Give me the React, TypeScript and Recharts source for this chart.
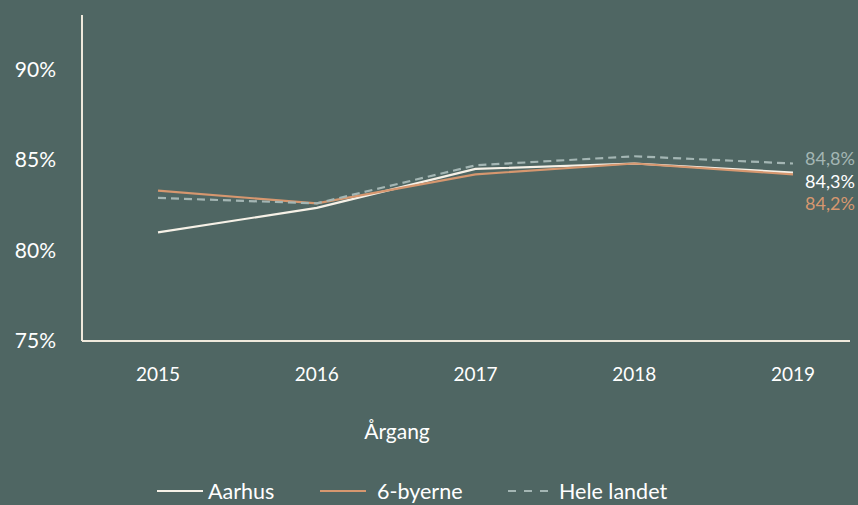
import { Label, Line, LineChart, XAxis, YAxis } from "recharts";

const years = ["2015", "2016", "2017", "2018", "2019"];
const aarhus = [81.0, 82.35, 84.5, 84.8, 84.3];
const byerne = [83.3, 82.6, 84.2, 84.8, 84.2];
const heleLandet = [82.9, 82.6, 84.7, 85.2, 84.8];
const yTicks = [75, 80, 85, 90];

const data = years.map((year, i) => ({
  year,
  aarhus: aarhus[i],
  byerne: byerne[i],
  hele: heleLandet[i],
}));

const BG = "#4f6663";
const FONT = "Lato, 'Open Sans', sans-serif";

const series = [
  { key: "aarhus", name: "Aarhus", color: "#f6f1e7", labelColor: "#ffffff", dash: undefined, legendDash: undefined, labelDy: 11 },
  { key: "byerne", name: "6-byerne", color: "#d6976f", labelColor: "#d6976f", dash: undefined, legendDash: undefined, labelDy: 31 },
  { key: "hele", name: "Hele landet", color: "#a4b6b4", labelColor: "#a4b6b4", dash: "8 5", legendDash: "8 8", labelDy: -3 },
];

// legend item x positions (line start)
const legendX = [157, 320, 508];

const fmt = (v: number) => v.toFixed(1).replace(".", ",") + "%";

function endLabel(color: string, dy: number) {
  return (props: any) => {
    const { x, y, value, index } = props;
    if (index !== years.length - 1) return null;
    return (
      <text x={x + 12} y={y + dy} fill={color} fontSize={18} fontFamily={FONT} dominantBaseline="middle">
        {fmt(value)}
      </text>
    );
  };
}

export default function App() {
  return (
    <div style={{ position: "absolute", left: 0, top: 0, width: 858, height: 505, background: BG, fontFamily: FONT }}>
      <LineChart width={858} height={505} data={data} margin={{ top: 15, right: 8, left: 0, bottom: 54 }}>
        <XAxis
          dataKey="year"
          height={110}
          padding={{ left: 76, right: 57 }}
          axisLine={{ stroke: "#efe9dc", strokeWidth: 2 }}
          tickLine={false}
          tickMargin={21}
          tick={{ fill: "#ffffff", fontSize: 19, fontFamily: FONT }}
        >
          <Label value="Årgang" position="insideBottom" offset={12} dx={-69} fill="#ffffff" fontSize={21} fontFamily={FONT} />
        </XAxis>
        <YAxis
          width={82}
          domain={[75, 93]}
          ticks={yTicks}
          axisLine={{ stroke: "#efe9dc", strokeWidth: 2 }}
          tickLine={false}
          tickMargin={20}
          tickFormatter={(v) => v + "%"}
          tick={{ fill: "#ffffff", fontSize: 21, fontFamily: FONT }}
        />
        {series.map((s) => (
          <Line
            key={s.key}
            type="linear"
            dataKey={s.key}
            name={s.name}
            stroke={s.color}
            strokeWidth={2.2}
            strokeDasharray={s.dash}
            dot={false}
            activeDot={false}
            isAnimationActive={false}
            label={endLabel(s.labelColor, s.labelDy)}
          />
        ))}
      </LineChart>
      {series.map((s, i) => (
        <div
          key={s.key}
          style={{
            position: "absolute",
            top: 478,
            left: legendX[i],
            display: "flex",
            alignItems: "center",
            color: "#ffffff",
            fontSize: 21.5,
            fontFamily: FONT,
            whiteSpace: "nowrap",
          }}
        >
          <svg width={46} height={6} style={{ marginRight: i === 1 ? 11 : 5 }}>
            <line x1={0} y1={3} x2={46} y2={3} stroke={s.color} strokeWidth={2.2} strokeDasharray={s.legendDash} />
          </svg>
          <span>{s.name}</span>
        </div>
      ))}
    </div>
  );
}
